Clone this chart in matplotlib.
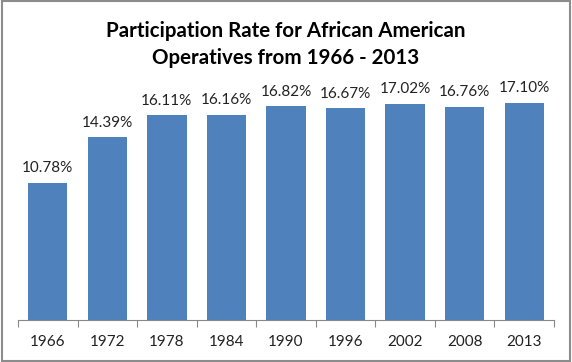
import matplotlib.pyplot as plt
import numpy as np
from matplotlib.patches import Rectangle

# Data
years = ['1966', '1972', '1978', '1984', '1990', '1996', '2002', '2008', '2013']
rates = [10.78, 14.39, 16.11, 16.16, 16.82, 16.67, 17.02, 16.76, 17.10]

plt.rcParams['font.family'] = ['Lato', 'DejaVu Sans']

fig = plt.figure(figsize=(5.72, 3.62), dpi=100)
ax = fig.add_axes([0.0315, 0.116, 0.937, 0.702])

x = np.arange(len(years))
bars = ax.bar(x, rates, width=0.66, color='#4F81BD')

for xi, v in zip(x, rates):
    ax.text(xi, v + 0.6, '%.2f%%' % v, ha='center', va='bottom', fontsize=11, color='#222222')

ax.set_xlim(-0.5, len(years) - 0.5)
ax.set_ylim(0, 20)
ax.set_yticks([])
ax.set_xticks(x)
ax.set_xticklabels(years, fontsize=11, color='#222222')
ax.tick_params(axis='x', length=0, pad=11)
# tick marks between categories
ax.set_xticks(np.arange(-0.5, len(years)), minor=True)
ax.tick_params(axis='x', which='minor', length=5, color='#888888', width=0.8)

for side in ['top', 'right', 'left']:
    ax.spines[side].set_visible(False)
ax.spines['bottom'].set_color('#888888')
ax.spines['bottom'].set_linewidth(0.8)

fig.text(0.5, 0.878, 'Participation Rate for African American\nOperatives from 1966 - 2013',
         ha='center', va='center', fontsize=14.8, fontweight='bold', linespacing=1.45)

# outer border
fig.patches.append(Rectangle((0.003, 0.004), 0.994, 0.992, transform=fig.transFigure,
                             fill=False, edgecolor='#8c8c8c', linewidth=1.5))

fig.savefig('out.png', dpi=100)
